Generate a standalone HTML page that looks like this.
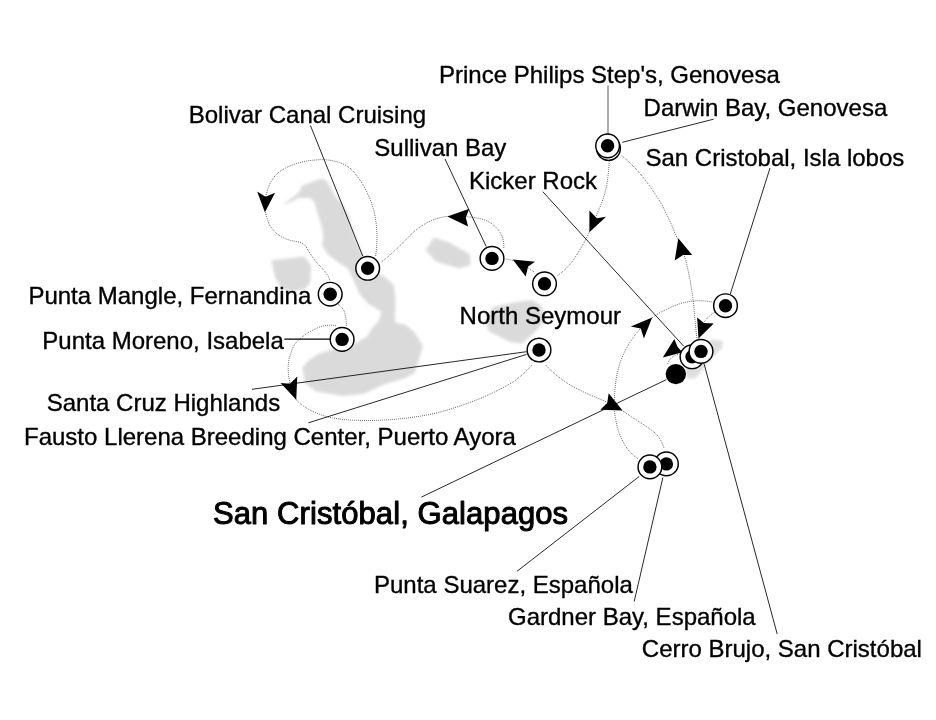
<!DOCTYPE html>
<html>
<head>
<meta charset="utf-8">
<title>Galapagos cruise map</title>
<style>
html,body{margin:0;padding:0;background:#fff;}
body{width:936px;height:720px;overflow:hidden;font-family:"Liberation Sans",sans-serif;}
svg{display:block;}
.lbl{font-family:"Liberation Sans",sans-serif;font-size:24px;fill:#000;stroke:#000;stroke-width:0.35;}
.ttl{font-family:"Liberation Sans",sans-serif;font-size:31px;fill:#000;stroke:#000;stroke-width:1;stroke-linejoin:round;letter-spacing:0.08px;}
.ln{stroke:#000;stroke-width:0.85;fill:none;}
.rt{stroke:#000;stroke-width:0.8;fill:none;stroke-dasharray:0.7 1.3;}
.ar{fill:#000;stroke:none;}
.land{fill:#dbdada;stroke:none;}
</style>
</head>
<body>
<svg width="936" height="720" viewBox="0 0 936 720">
<defs>
<filter id="bl" x="-20%" y="-20%" width="140%" height="140%"><feGaussianBlur stdDeviation="1.4"/></filter>
<g id="mk"><circle r="11.850" fill="#fff" stroke="#000" stroke-width="1.450"/><circle r="6.7" fill="#000"/></g>
</defs>
<rect width="936" height="720" fill="#fff"/>

<!-- islands -->
<g class="land" filter="url(#bl)">
<!-- Isabela -->
<path d="M283,205 L291,198.500 L299,192.500 L302,185.500 L311.500,182 L320,179 L325.500,179.500 L330,186.500 L335.500,196.500 L343.500,206 L349,216 L352,228 L357.500,243.500 L362,253.500 L369,264 L380,274.500 L387,278.500 L394,285.500 L395.500,299.500 L395,314.500 L395.500,323 L405.500,324.500 L415,333 L423,346 L419,359 L414.500,373 L405.500,378 L385,384 L364,393.500 L343,396 L316,391.500 L305,383 L302.500,368 L308,361 L318,354 L340,347 L354,344 L366.500,337 L372,328.500 L379,320.500 L381.500,312 L368,303.500 L359.500,294 L354,281.500 L348,268.500 L335.500,260.500 L327,253.500 L322,245 L323.500,236.500 L321.500,225.500 L317,211.500 L314.500,202 L310,198 L298,198 L291,202 Z"/>
<!-- Fernandina -->
<path d="M271,260.500 L304,256.500 L311,265.500 L310.500,282 L305,289 L292,292 L281,288 L275.500,278 Z"/>
<!-- Santiago -->
<path d="M425.500,250 L434,237.500 L449,242.500 L470,254.500 L470.500,265 L459,268.500 L436,261.500 Z"/>
<!-- Santa Cruz -->
<path d="M493,307 L517,302 L532,300 L542,306 L544,322 L534,333 L522,343.500 L510,342 L489,331.500 L485.500,322 Z"/>
<!-- San Cristobal -->
<path d="M688,360 L700,346 L712,339.500 L723,341 L722,348 L712,358 L704,368 L696,378 L688,379 L685,372 Z" opacity="0.9"/>
</g>

<!-- dotted routes -->
<g class="rt">
<path d="M375.6,256 C378,240 377,225 374.4,213 C371,198 362,180 351,169 C340,160 325,159 315.6,160 C300,161 287,166 277.8,173 C270,180 266,192 265,202 C265,212 266,216 267.8,220 C270,228 275,232 277.8,234.4 C285,240 293,241 300,242.2 C304,244 306,246 306.700,248 C309,252 312,256 314.4,260 C318,264 321,267 324.4,271 C327,274 329,277 330,281"/>
<path d="M338,304 C342.500,308 344.250,310 345,314 C346,318 346.400,322 346.400,326"/>
<path d="M335.700,325.800 C332,325 329,325 325.600,325.500 C321,326.300 318,327.500 314.900,329.200 C311,331 308,332.500 305.300,334.600 C302,337 299,339.500 296.700,342 C294,345 292.500,348 291.400,351.700 C290,355 289.200,358 288.700,361.300 C288.300,364 288.200,366.500 288.200,368.800 C288.200,373 288.600,377 289.400,380 C290.500,387 293,394 296.250,399.750 C300,404 305,407.500 310,410 C315,412.800 321,415 327.500,416.900 C332,418 344,420 356,420.300 C368,420.800 381,420.300 394,419.400 C409,418 424,416 438,412.600 C452,409 466,404 479,399 C491,394 503,388 513.500,381.800 C521,376 527,371 532.300,364.700"/>
<path d="M546,365.400 C553,373 562,380 571,385.500 C581,391 592,396 604,400.800 C614,406 624,411 632,417.300 C640,422 647,427 653.400,431.500 C659,436 662,442 664,448"/>
<path d="M638,458.700 C631,454 626,448 622.800,441 C619,434 617,427 615.700,419.700 C614,412 614,404 614.500,396 C615,387 616,378 618,370 C620,362 623,354 627.500,346.500 C632,338 640,328 648,321 C655,315 664,310 673,306.400 C681,303 688,301.300 695.600,300.800 C701,300.500 707,301 712,302"/>
<path d="M715,312 C710,315 706,319 703,324 C700,330 699,335 699,340"/>
<path d="M697,340 C696,330 695,320 694.200,310.600 C693.500,302 692.500,295 691.400,288.300 C690,279 688,269 685.800,260.600 C683,251 680,243 676,235.600 C672,225 667,215 662,205 C656,195 650,186 643,177.200 C636,169 629,161 620.600,155"/>
<path d="M609.400,159 C609,168 608,177 606.700,185.600 C605,194 602,203 598.300,210.600 C595,220 591,229 587,237 C583,245 578,253 573,260.600 C568,267 563,272 556.700,276"/>
<path d="M534,272 L527.500,267.200 C520,263 514,260 505,258.800"/>
<path d="M503.800,248 C504,244 503.500,240 502,236.400 C500,231 496,227 491.600,223.500 C486,220 481,218.500 475,217.600 C466,216.500 456,216 447,216.400 C441,217 435,219 430.500,221 C424,224 419,227.500 414,231.700 C408,237 403,243 397.600,248 C392,253 387,258 381,262.300"/>
<path d="M682,353.500 C675,354.500 669,357.500 667.500,365"/>
</g>

<!-- label lines -->
<g class="ln">
<line x1="310.4" y1="125.400" x2="362.700" y2="256"/>
<line x1="445" y1="159" x2="486.200" y2="246.500"/>
<line x1="713.600" y1="119.200" x2="622.300" y2="142.300"/>
<line x1="770" y1="168" x2="730.300" y2="294"/>
<line x1="542.800" y1="191.700" x2="683.500" y2="346"/>
<line x1="526.500" y1="351.700" x2="252" y2="389.300"/>
<line x1="526.500" y1="354.400" x2="308.400" y2="422.800"/>
<line x1="666.400" y1="379.600" x2="421.400" y2="497.100"/>
<line x1="639.300" y1="476.400" x2="517" y2="571.300"/>
<line x1="662.900" y1="477.500" x2="634.200" y2="601.500"/>
<line x1="704.200" y1="364.200" x2="777.200" y2="634"/>
</g>
<line x1="608" y1="85.400" x2="608" y2="134" stroke="#ababab" stroke-width="2"/>
<line x1="284.400" y1="339.100" x2="330" y2="339.100" stroke="#000" stroke-width="1.200"/>

<!-- arrows -->
<g class="ar">
<polygon points="264.900,212.200 257.100,191.600 265.600,196.700 275.100,192.700"/>
<polygon points="447.400,216.400 469.300,208.700 465.800,217.600 468.100,226.500"/>
<polygon points="512.800,259.400 535.100,261.800 528.100,266.500 525.700,276.400"/>
<polygon points="589.400,232.200 589.400,210.600 596.900,218.300 606.100,216.700"/>
<polygon points="678.300,238.300 674.700,260.600 683.100,255 692.200,255"/>
<polygon points="652.200,317.400 630.800,326.400 640.800,328.500 643.900,338.600"/>
<polygon points="698.500,338.600 697.100,317.400 704,322.900 713.750,323.600"/>
<polygon points="662.800,357.600 674.300,338.900 677.800,347.200 682.500,352.300"/>
<polygon points="622.500,410.500 608.700,393.300 607.200,403 600.300,409.700"/>
<polygon points="296.250,399.750 280.600,383.100 290,383.750 297.250,376.500"/>
</g>

<!-- port dot -->
<circle cx="675.800" cy="374.100" r="10.200" fill="#000"/>

<!-- markers -->
<use href="#mk" x="608.500" y="148.500"/>
<use href="#mk" x="607.600" y="145.800"/>
<use href="#mk" x="725.500" y="305.700"/>
<use href="#mk" x="492" y="258.400"/>
<use href="#mk" x="544.500" y="283.800"/>
<use href="#mk" x="367.700" y="268.300"/>
<use href="#mk" x="330.200" y="294.200"/>
<use href="#mk" x="342.100" y="339.400"/>
<use href="#mk" x="539" y="350"/>
<use href="#mk" x="692" y="356.800"/>
<use href="#mk" x="701" y="351.400"/>
<use href="#mk" x="666.400" y="463.900"/>
<use href="#mk" x="649.900" y="466.900"/>

<!-- labels -->
<g opacity="0.999">
<text class="lbl" x="439" y="83">Prince Philips Step's, Genovesa</text>
<text class="lbl" x="643.600" y="116.200">Darwin Bay, Genovesa</text>
<text class="lbl" x="188.700" y="123">Bolivar Canal Cruising</text>
<text class="lbl" x="374.300" y="156">Sullivan Bay</text>
<text class="lbl" x="645.5" y="166">San Cristobal, Isla lobos</text>
<text class="lbl" x="469" y="189.200">Kicker Rock</text>
<text class="lbl" x="28.400" y="304">Punta Mangle, Fernandina</text>
<text class="lbl" x="459.600" y="324.100">North Seymour</text>
<text class="lbl" x="42.3" y="349">Punta Moreno, Isabela</text>
<text class="lbl" x="46.700" y="411.400">Santa Cruz Highlands</text>
<text class="lbl" x="24" y="445.200">Fausto Llerena Breeding Center, Puerto Ayora</text>
<text class="ttl" x="213" y="524">San Cristóbal, Galapagos</text>
<text class="lbl" x="374" y="593">Punta Suarez, Española</text>
<text class="lbl" x="508" y="624.600">Gardner Bay, Española</text>
<text class="lbl" x="641.800" y="657">Cerro Brujo, San Cristóbal</text>
</g>
</svg>
</body>
</html>
